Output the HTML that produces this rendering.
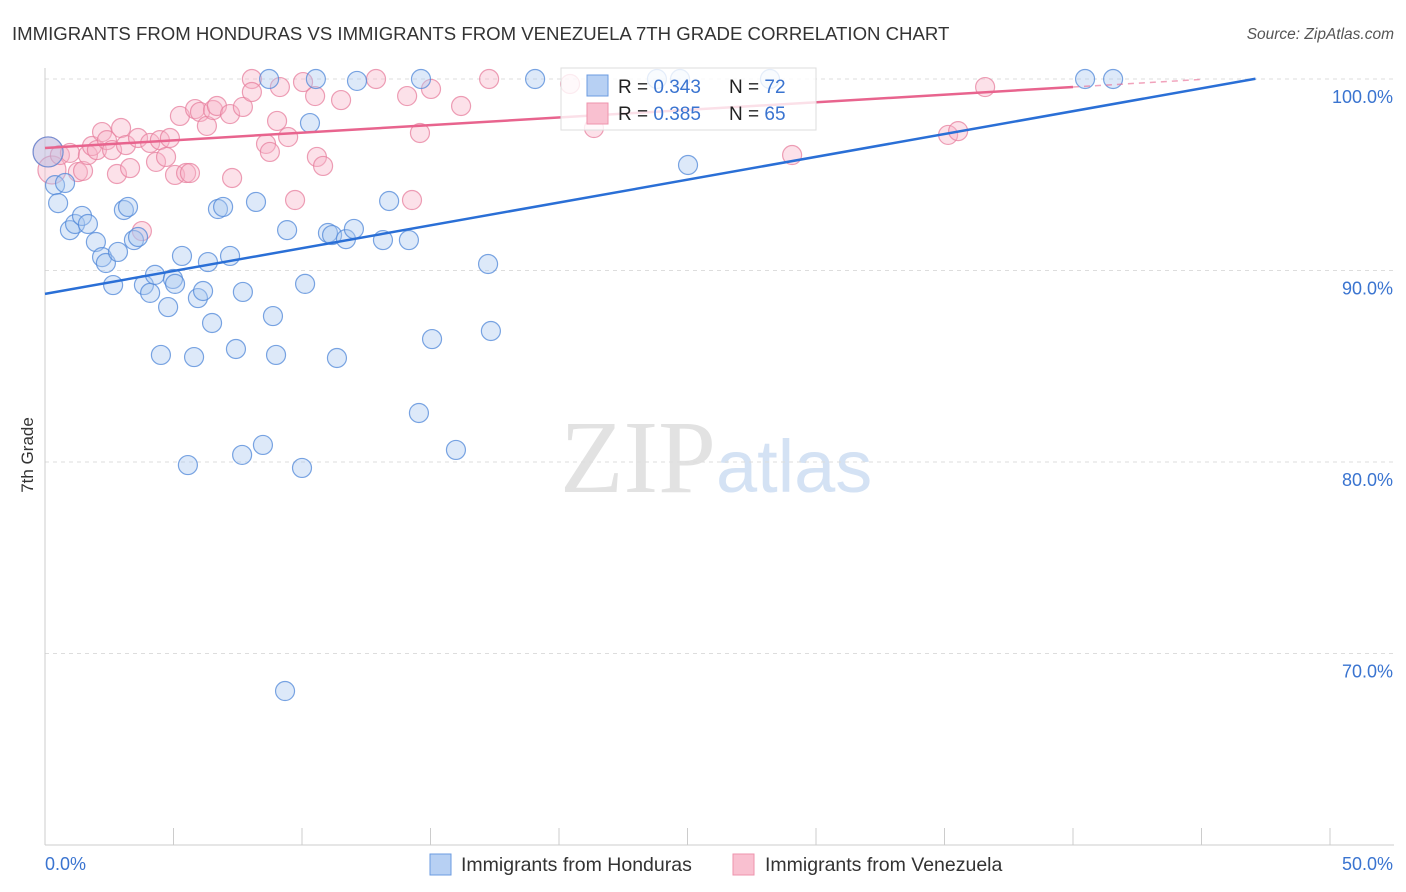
<!DOCTYPE html>
<html><head><meta charset="utf-8"><style>
body{margin:0;background:#fff;font-family:"Liberation Sans",sans-serif;}
svg{display:block}
</style></head><body>
<svg id="chart" width="1406" height="892">
<text x="12" y="40" font-size="18.6" fill="#333">IMMIGRANTS FROM HONDURAS VS IMMIGRANTS FROM VENEZUELA 7TH GRADE CORRELATION CHART</text>
<text x="1394" y="39" font-size="15.5" fill="#555" font-style="italic" text-anchor="end">Source: ZipAtlas.com</text>
<text x="716" y="492" font-size="104" fill="#e2e2e2" text-anchor="end" font-family="Liberation Serif,serif">ZIP</text>
<text x="716" y="492" font-size="74" fill="#d4e2f4">atlas</text>
<text transform="translate(33,455) rotate(-90)" font-size="17" fill="#333" text-anchor="middle">7th Grade</text>
<g id="grid"></g><g id="marks"></g><g id="lines"></g>
<g>
<rect x="561" y="68" width="255" height="62" fill="#fff" fill-opacity="0.8" stroke="#ddd"/>
<rect x="587" y="75" width="21" height="21" fill="#b7d0f3" stroke="#6b9be0"/>
<rect x="587" y="103" width="21" height="21" fill="#f9c0d0" stroke="#ee93ad"/>
<text x="618" y="93" font-size="19" fill="#222">R = <tspan fill="#3a74d0">0.343</tspan></text>
<text x="729" y="93" font-size="19" fill="#222">N = <tspan fill="#3a74d0">72</tspan></text>
<text x="618" y="120" font-size="19" fill="#222">R = <tspan fill="#3a74d0">0.385</tspan></text>
<text x="729" y="120" font-size="19" fill="#222">N = <tspan fill="#3a74d0">65</tspan></text>
</g>
<g>
<rect x="430" y="854" width="21" height="21" fill="#b7d0f3" stroke="#6b9be0"/>
<text x="461" y="871" font-size="19.5" fill="#333">Immigrants from Honduras</text>
<rect x="733" y="854" width="21" height="21" fill="#f9c0d0" stroke="#ee93ad"/>
<text x="765" y="871" font-size="19.5" fill="#333">Immigrants from Venezuela</text>
</g>
</svg>
<script>
const xTicks=[0,5,10,15,20,25,30,35,40,45,50];
const xTickLabels=["0.0%","50.0%"];
const yTicks=[100,90,80,70];
const yTickLabels=["100.0%","90.0%","80.0%","70.0%"];
const hondX=[0.12,0.39,0.51,0.78,0.97,1.17,1.44,1.67,1.98,2.22,2.37,2.65,2.84,3.07,3.23,3.46,3.62,3.85,4.09,4.28,4.51,4.79,4.98,5.06,5.33,5.56,5.80,5.95,6.15,6.34,6.50,6.73,6.93,7.20,7.43,7.67,7.70,8.21,8.48,8.72,8.87,8.99,9.34,9.42,10.0,10.12,10.31,10.54,11.01,11.17,11.36,11.71,12.02,12.14,13.15,13.39,14.16,14.55,14.63,15.06,15.99,17.24,17.35,19.07,23.81,24.71,25.02,28.21,40.47,41.56];
const hondY=[96.19,94.46,93.52,94.57,92.11,92.43,92.85,92.43,91.49,90.70,90.39,89.24,90.97,93.16,93.32,91.59,91.75,89.24,88.83,89.77,85.59,88.09,89.56,89.30,90.76,79.84,85.48,88.56,88.93,90.44,87.26,93.21,93.32,90.76,85.90,80.37,88.88,93.58,80.89,100,87.62,85.59,68.04,92.11,79.69,89.30,97.70,100,91.96,91.85,85.43,91.64,92.17,99.9,91.59,93.63,91.59,82.56,100,86.42,80.63,90.34,86.84,100,100,100,95.51,100,100,100];
const venX=[0.12,0.27,0.58,0.97,1.28,1.48,1.67,1.83,2.02,2.22,2.41,2.61,2.80,2.96,3.15,3.31,3.62,3.77,4.09,4.32,4.47,4.71,4.86,5.06,5.25,5.49,5.64,5.84,6.03,6.30,6.54,6.69,7.20,7.28,7.70,8.05,8.05,8.60,8.75,9.03,9.14,9.46,9.73,10.04,10.51,10.58,10.82,11.52,12.88,14.09,14.28,14.59,15.02,16.19,17.28,20.43,21.36,29.07,35.14,35.53,36.58];
const venY=[96.19,95.25,96.03,96.14,95.14,95.20,96.03,96.50,96.29,97.23,96.81,96.29,95.04,97.44,96.55,95.35,96.92,92.06,96.66,95.67,96.81,95.93,96.92,94.99,98.07,95.09,95.09,98.43,98.28,97.55,98.38,98.59,98.17,94.83,98.54,100,99.32,96.61,96.19,97.81,99.58,96.97,93.68,99.84,99.11,95.93,95.46,98.90,100,99.11,93.68,97.18,99.48,98.59,100,99.74,97.44,96.03,97.08,97.28,99.58];
const hondTrend=[88.78,0.2385]; // intercept, slope
const venTrend=[96.40,0.0795];
const X=v=>45+v*25.7, Y=v=>79+(100-v)*19.15;
const NS="http://www.w3.org/2000/svg";
function mk(t,a,p){const e=document.createElementNS(NS,t);for(const k in a)e.setAttribute(k,a[k]);p.appendChild(e);return e;}
const grid=document.getElementById('grid'),marks=document.getElementById('marks'),lines=document.getElementById('lines');
yTicks.forEach((v,i)=>{
 const l=mk('line',{x1:45,x2:1394,y1:Y(v),y2:Y(v),stroke:'#ddd','stroke-dasharray':'4,4'},grid);
 
 
 const t=mk('text',{x:1393,y:Y(v)+24,'font-size':18,fill:'#3a74d0','text-anchor':'end'},grid);t.textContent=yTickLabels[i];
 
 
});
const ax=mk('line',{x1:45,x2:45,y1:68,y2:845,stroke:'#ccc'},grid);


const bx=mk('line',{x1:45,x2:1394,y1:845,y2:845,stroke:'#ccc'},grid);


xTicks.forEach(v=>{const t=mk('line',{x1:X(v),x2:X(v),y1:828,y2:845,stroke:'#ccc'},grid);
 
 });
const l0=mk('text',{x:45,y:870,'font-size':18,fill:'#3a74d0'},grid);l0.textContent=xTickLabels[0];


const l1=mk('text',{x:1393,y:870,'font-size':18,fill:'#3a74d0','text-anchor':'end'},grid);l1.textContent=xTickLabels[1];


function pts(xs,ys,fill,stroke,name){xs.forEach((x,i)=>{const r=i==0?15:(name=='venezuela-point'&&i==1?14:9.5);
 const c=mk('circle',{cx:X(x),cy:Y(ys[i]),r:r,fill:fill,'fill-opacity':0.4,stroke:stroke,'stroke-opacity':0.75,'stroke-width':1.2},marks);
 
 });}
pts(venX,venY,'#f7b3c7','#e77f9e','venezuela-point');
pts(hondX,hondY,'#a9c8f0','#4f87d8','honduras-point');
const hl=mk('line',{x1:X(0),y1:Y(hondTrend[0]),x2:X(47.1),y2:Y(hondTrend[0]+hondTrend[1]*47.1),stroke:'#2a6fd6','stroke-width':2.5},lines);


const vl=mk('line',{x1:X(0),y1:Y(venTrend[0]),x2:X(40),y2:Y(venTrend[0]+venTrend[1]*40),stroke:'#e8648e','stroke-width':2.5},lines);


const vd=mk('line',{x1:X(40),y1:Y(venTrend[0]+venTrend[1]*40),x2:X(45),y2:Y(venTrend[0]+venTrend[1]*45),stroke:'#e8648e','stroke-width':1.5,'stroke-dasharray':'6,5','stroke-opacity':0.6},lines);


</script>
</body></html>
